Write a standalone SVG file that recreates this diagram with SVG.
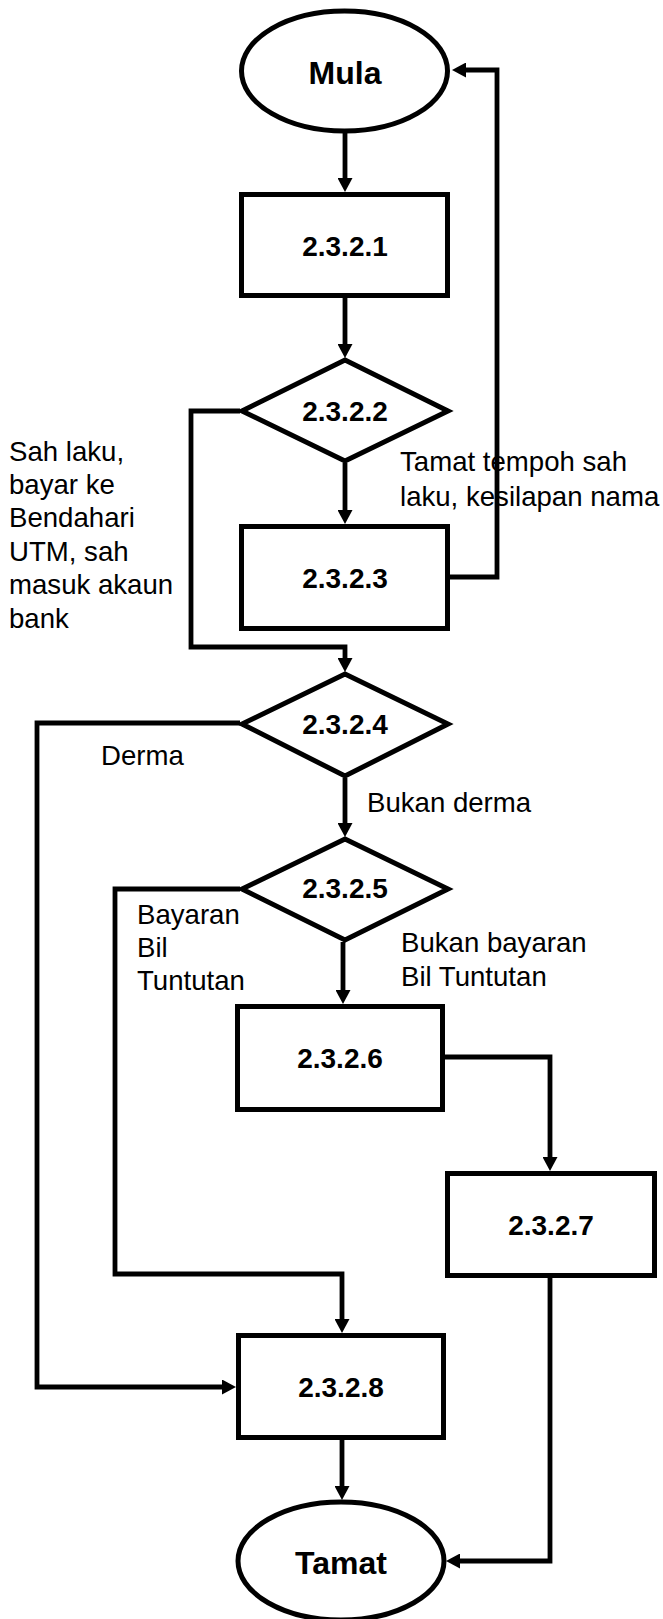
<svg xmlns="http://www.w3.org/2000/svg" width="663" height="1619" viewBox="0 0 663 1619">
<style>
.s{fill:#fff;stroke:#000;stroke-width:5;stroke-linejoin:miter}
.c{fill:none;stroke:#000;stroke-width:4.8;stroke-linejoin:miter}
.n{font-family:"Liberation Sans",Arial,sans-serif;font-weight:bold;font-size:28px;text-anchor:middle;fill:#000}
.t{font-family:"Liberation Sans",Arial,sans-serif;font-weight:bold;font-size:32px;text-anchor:middle;fill:#000}
.l{font-family:"Liberation Sans",Arial,sans-serif;font-size:27.6px;fill:#000}
</style>
<defs>
<marker id="ah" markerWidth="15" markerHeight="15" refX="8" refY="7.5" orient="auto" markerUnits="userSpaceOnUse"><path d="M0,0 L14,7.5 L0,15 z" fill="#000"/></marker>
</defs>
<rect width="663" height="1619" fill="#fff"/>
<g id="connectors">
<path class="c" d="M345 133 V186" marker-end="url(#ah)"/>
<path class="c" d="M345 298 V352" marker-end="url(#ah)"/>
<path class="c" d="M345 463 V518" marker-end="url(#ah)"/>
<path class="c" d="M450 577 H497 V70 H458" marker-end="url(#ah)"/>
<path class="c" d="M240 411 H191 V647 H345 V666" marker-end="url(#ah)"/>
<path class="c" d="M345 778 V831" marker-end="url(#ah)"/>
<path class="c" d="M240 723 H37 V1387 H230" marker-end="url(#ah)"/>
<path class="c" d="M343 942 V998" marker-end="url(#ah)"/>
<path class="c" d="M240 889 H115 V1274 H342 V1327" marker-end="url(#ah)"/>
<path class="c" d="M445 1057 H550 V1165" marker-end="url(#ah)"/>
<path class="c" d="M550 1278 V1561 H452" marker-end="url(#ah)"/>
<path class="c" d="M342 1440 V1494" marker-end="url(#ah)"/>
</g>
<g id="labels">
<text class="l" x="400" y="471">Tamat tempoh sah</text>
<text class="l" x="400" y="506">laku, kesilapan nama</text>
<text class="l" x="9" y="461">Sah laku,</text>
<text class="l" x="9" y="494">bayar ke</text>
<text class="l" x="9" y="527">Bendahari</text>
<text class="l" x="9" y="561">UTM, sah</text>
<text class="l" x="9" y="594">masuk akaun</text>
<text class="l" x="9" y="628">bank</text>
<text class="l" x="101" y="765">Derma</text>
<text class="l" x="367" y="812">Bukan derma</text>
<text class="l" x="137" y="924">Bayaran</text>
<text class="l" x="137" y="957">Bil</text>
<text class="l" x="137" y="990">Tuntutan</text>
<text class="l" x="401" y="952">Bukan bayaran</text>
<text class="l" x="401" y="986">Bil Tuntutan</text>
</g>
<g id="mula"><ellipse class="s" cx="344.5" cy="71" rx="103" ry="60"/><text class="t" x="345" y="84">Mula</text></g>
<g id="n2321"><rect class="s" x="241.5" y="194.5" width="206" height="101"/><text class="n" x="345" y="256">2.3.2.1</text></g>
<g id="n2322"><polygon class="s" points="345,360 448,411 345,461 242,411"/><text class="n" x="345" y="421">2.3.2.2</text></g>
<g id="n2323"><rect class="s" x="241.5" y="526.5" width="206" height="102"/><text class="n" x="345" y="588">2.3.2.3</text></g>
<g id="n2324"><polygon class="s" points="345,674 448,724 345,776 242,724"/><text class="n" x="345" y="734">2.3.2.4</text></g>
<g id="n2325"><polygon class="s" points="345,839 448,889 345,940 242,889"/><text class="n" x="345" y="898">2.3.2.5</text></g>
<g id="n2326"><rect class="s" x="237.5" y="1006.5" width="205" height="103"/><text class="n" x="340" y="1068">2.3.2.6</text></g>
<g id="n2327"><rect class="s" x="447.5" y="1173.5" width="207" height="102"/><text class="n" x="551" y="1235">2.3.2.7</text></g>
<g id="n2328"><rect class="s" x="238.5" y="1335.5" width="205" height="102"/><text class="n" x="341" y="1397">2.3.2.8</text></g>
<g id="tamat"><ellipse class="s" cx="341" cy="1561" rx="103" ry="59"/><text class="t" x="341" y="1574">Tamat</text></g>
</svg>
